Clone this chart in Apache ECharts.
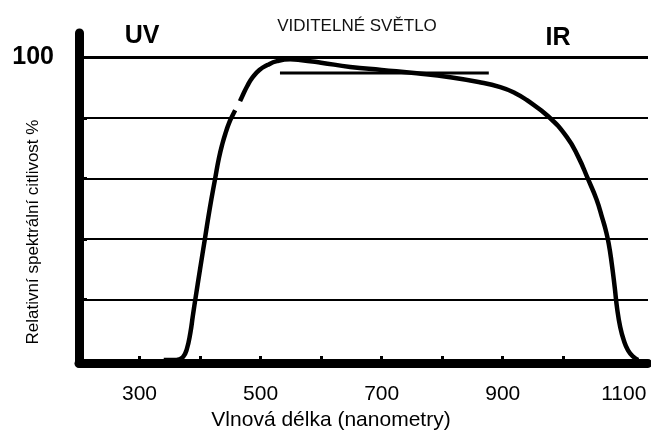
<!DOCTYPE html>
<html>
<head>
<meta charset="utf-8">
<script src="https://cdn.jsdelivr.net/npm/echarts@6/dist/echarts.min.js"></script>
<style>html,body{margin:0;padding:0;background:#fff}#c{width:651px;height:433px}</style>
</head>
<body>
<div id="c"></div>
<script>
// Data
const wavelength = [340, 358, 365, 372, 378, 384, 388, 392, 400, 408, 416, 425, 431, 437, 443, 448, 453, 458, 462, 466, 469, 478, 487, 498, 511, 527, 549, 565, 600, 648, 700, 758, 813, 860, 896, 920, 940, 975, 1006, 1025, 1041, 1055, 1065, 1070, 1075, 1080, 1085, 1089, 1094, 1100, 1107, 1116, 1124];
const sensitivity = [0, 0, 0.2, 1, 3.5, 9, 14.5, 19.8, 30, 40, 50, 60, 66.5, 71.5, 75.5, 78.3, 80.5, 82.5, '-', 85.5, 86.8, 90.5, 93.4, 95.8, 97.4, 98.7, 99.3, 99.1, 98.2, 96.8, 95.8, 94.7, 93.4, 91.8, 90.1, 88.2, 85.8, 80.5, 73.6, 67, 59.7, 53, 46.5, 43, 38.5, 32, 24, 17, 11, 6.5, 3.2, 1, 0];
const refLineX = [532, 877];
const refLineY = [94.8, 94.8];
const gridValues = [20, 40, 60, 80, 100];
const yLabelValues = [100];
const xTickValues = [300, 400, 500, 600, 700, 800, 900, 1000];
const xLabelValues = [300, 500, 700, 900, 1100];
const xTitle = 'Vlnová délka (nanometry)';
const yTitle = 'Relativní spektrální citlivost %';
const bandLabels = ['UV', 'VIDITELNÉ SVĚTLO', 'IR'];

const FONT = "'Liberation Sans', Arial, sans-serif";
const chart = echarts.init(document.getElementById('c'), null, {renderer: 'canvas'});
chart.setOption({
  animation: false,
  backgroundColor: '#fff',
  grid: {left: 79, right: 3, top: 33, bottom: 70, containLabel: false},
  xAxis: {
    type: 'value', min: 200, max: 1140,
    axisLine: {onZero: false, lineStyle: {color: '#000', width: 9}},
    axisTick: {show: true, inside: true, length: 7, customValues: xTickValues, lineStyle: {color: '#000', width: 3}},
    axisLabel: {customValues: xLabelValues, formatter: v => String(v), color: '#000', fontSize: 21, fontFamily: FONT, margin: 21},
    splitLine: {show: false}
  },
  yAxis: {
    type: 'value', min: -1, max: 108,
    axisLine: {show: true, onZero: false, lineStyle: {color: '#000', width: 9}},
    axisTick: {show: true, inside: true, length: 8, customValues: gridValues, lineStyle: {color: '#000', width: 3}},
    axisLabel: {customValues: yLabelValues, formatter: v => String(v), color: '#000', fontSize: 25, fontWeight: 'bold', fontFamily: FONT, margin: 25},
    splitLine: {show: false}
  },
  graphic: [
    {type: 'text', x: 142, y: 36, style: {text: bandLabels[0], font: 'bold 25px ' + FONT, fill: '#000', textAlign: 'center', textVerticalAlign: 'middle'}},
    {type: 'text', x: 357, y: 26, style: {text: bandLabels[1], font: '17px ' + FONT, fill: '#111', textAlign: 'center', textVerticalAlign: 'middle'}},
    {type: 'text', x: 558, y: 38, style: {text: bandLabels[2], font: 'bold 25px ' + FONT, fill: '#000', textAlign: 'center', textVerticalAlign: 'middle'}},
    {type: 'text', x: 331, y: 420, style: {text: xTitle, font: '21px ' + FONT, fill: '#000', textAlign: 'center', textVerticalAlign: 'middle'}},
    {type: 'text', x: 33, y: 232, rotation: Math.PI / 2, style: {text: yTitle, font: '17px ' + FONT, fill: '#000', textAlign: 'center', textVerticalAlign: 'middle'}}
  ],
  series: [
    {
      type: 'line', silent: true, data: [], symbol: 'none',
      markLine: {
        silent: true, symbol: 'none', label: {show: false},
        data: gridValues.map(v => ({yAxis: v, lineStyle: {color: '#000', width: v === 100 ? 3 : 2, type: 'solid'}}))
      }
    },
    {
      type: 'line', silent: true, symbol: 'none',
      data: refLineX.map((x, i) => [x, refLineY[i]]),
      lineStyle: {color: '#000', width: 3}
    },
    {
      type: 'line', silent: true, symbol: 'none', smooth: 0.5, connectNulls: false,
      data: wavelength.map((x, i) => [x, sensitivity[i]]),
      lineStyle: {color: '#000', width: 4.5}
    }
  ]
});
</script>
</body>
</html>
